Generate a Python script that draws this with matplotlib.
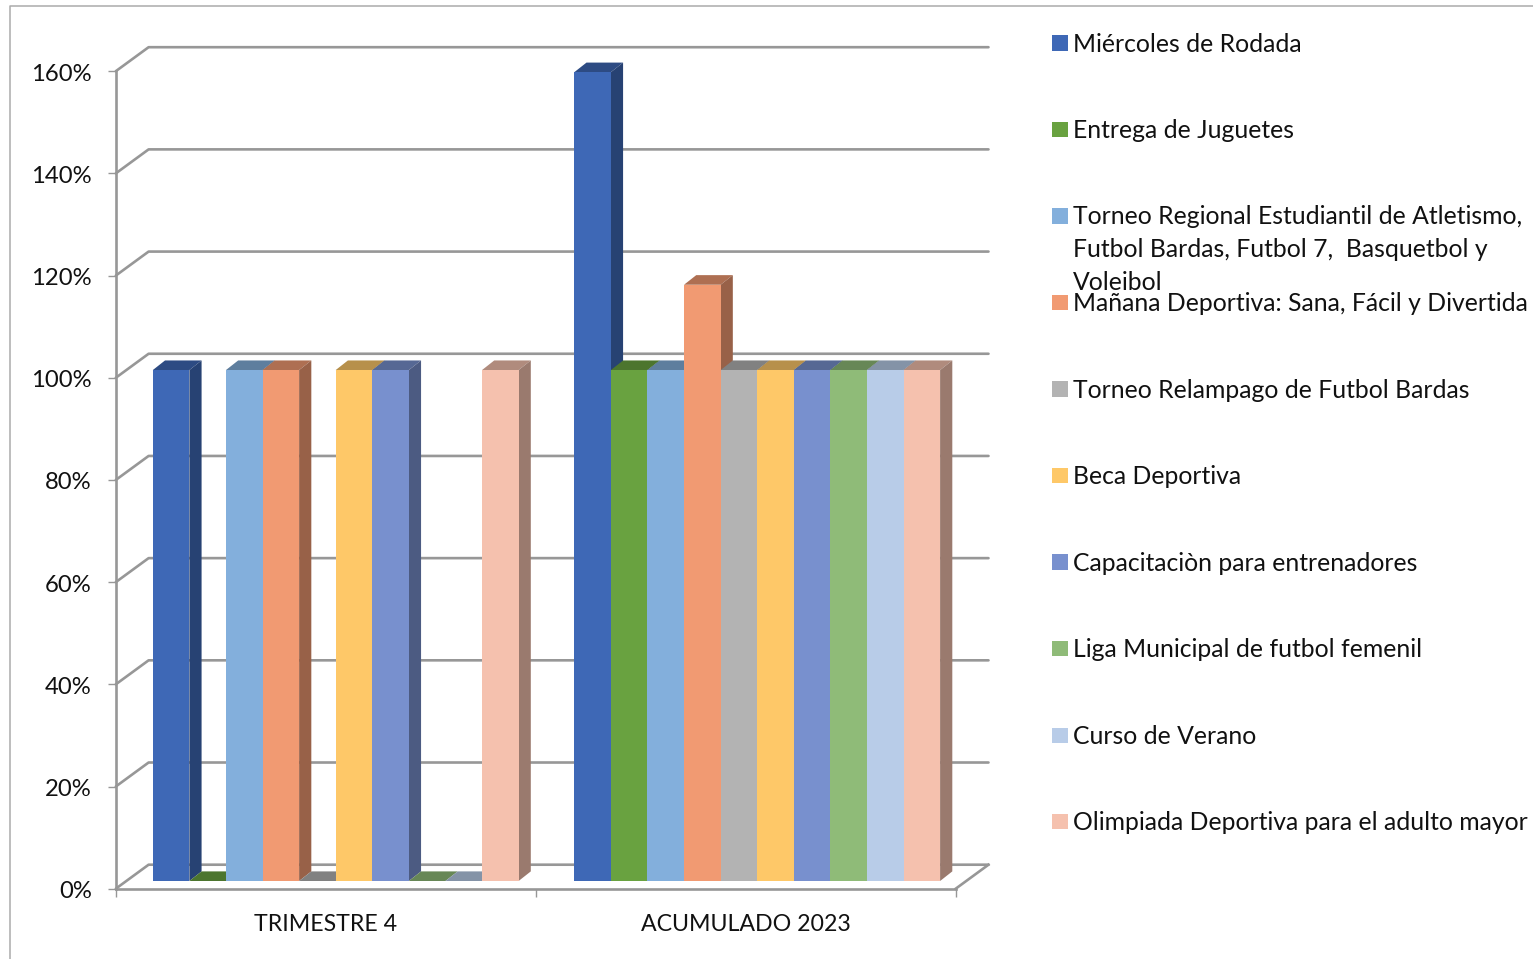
import matplotlib
matplotlib.use('Agg')
import matplotlib.pyplot as plt
from matplotlib.colors import to_rgb
from matplotlib.lines import Line2D
from matplotlib.patches import Rectangle
from matplotlib.transforms import Affine2D, ScaledTranslation

plt.rcParams['font.family'] = ['Lato', 'DejaVu Sans']

W, H = 1533, 959
categories = ['TRIMESTRE 4', 'ACUMULADO 2023']
series_labels = [
    'Miércoles de Rodada',
    'Entrega de Juguetes',
    'Torneo Regional Estudiantil de Atletismo,\nFutbol Bardas, Futbol 7,  Basquetbol y\nVoleibol',
    'Mañana Deportiva: Sana, Fácil y Divertida',
    'Torneo Relampago de Futbol Bardas',
    'Beca Deportiva',
    'Capacitaciòn para entrenadores',
    'Liga Municipal de futbol femenil',
    'Curso de Verano',
    'Olimpiada Deportiva para el adulto mayor',
]
trimestre = [100, 0, 100, 100, 0, 100, 100, 0, 0, 100]
acumulado = [158.3, 100, 100, 116.7, 100, 100, 100, 100, 100, 100]
colors = ['#3E68B6', '#69A240', '#83AFDC', '#F19A72', '#B3B3B3',
          '#FEC868', '#7890CE', '#8FBB78', '#B8CCE8', '#F5C1AE']
yticks = [0, 20, 40, 60, 80, 100, 120, 140, 160]
legend_y = [42.5, 129, 215.5, 302, 388.5, 475, 561.5, 648, 735, 821]

GRID = '#979797'
TEXT = '#111111'
FS = 17.2
FS_LEGEND = 17.8
LINE_PITCH = 32.7


def shade(color, k):
    return tuple(c * k for c in to_rgb(color))


fig = plt.figure(figsize=(W / 100, H / 100), dpi=100)
ax = fig.add_axes([115.8 / W, (H - 888.7) / H, 839.9 / W, 817.5 / H])
ax.set_xlim(0, 2)
ax.set_ylim(0, 160)
ax.patch.set_visible(False)

# px to data units
px_x = 2 / 839.9
px_y = 160 / 817.5

# back wall and floor
wall_x = 32.8 * px_x
wall_y = 24 * px_y
for t in yticks:
    ax.plot([0, wall_x, 2 + wall_x], [t, t + wall_y, t + wall_y], color=GRID,
            lw=1.9, clip_on=False, zorder=1, solid_capstyle='round')
ax.plot([2, 2 + wall_x], [0, wall_y], color=GRID, lw=1.9, clip_on=False, zorder=1)

# fake 3d bars
bar_w = 36.58 * px_x
depth_x = 12.2 * px_x
depth_y = 9.6 * px_y
base = 7.7 * px_y
starts = [37 * px_x, 458.5 * px_x]
z = 3
for start, values in zip(starts, [trimestre, acumulado]):
    for i, v in enumerate(values):
        x0 = start + i * bar_w
        x1 = x0 + bar_w
        top = base + v
        ax.fill([x0, x1, x1 + depth_x, x0 + depth_x],
                [top, top, top + depth_y, top + depth_y],
                color=shade(colors[i], 0.72), lw=0, clip_on=False, zorder=z)
        if v > 0:
            ax.fill([x1, x1 + depth_x, x1 + depth_x, x1],
                    [base, base + depth_y, top + depth_y, top],
                    color=shade(colors[i], 0.63), lw=0, clip_on=False, zorder=z)
            ax.bar(x0, v, bar_w, bottom=base, align='edge', color=colors[i],
                   lw=0, clip_on=False, zorder=z)
        z += 1

# axes
for side in ['top', 'right']:
    ax.spines[side].set_visible(False)
for side in ['left', 'bottom']:
    ax.spines[side].set_color(GRID)
    ax.spines[side].set_linewidth(1.9)
    ax.spines[side].set_zorder(2)
ax.set_yticks(yticks)
ax.set_yticklabels(['{}%'.format(t) for t in yticks])
ax.set_xticks([0, 1, 2])
ax.set_xticklabels([])
ax.set_xticks([0.5, 1.5], minor=True)
ax.set_xticklabels(categories, minor=True)
ax.tick_params(axis='y', length=5.8, width=1, color=GRID, pad=11.5,
               labelsize=FS, labelcolor=TEXT)
ax.tick_params(axis='x', which='major', length=5.8, width=1, color=GRID)
ax.tick_params(axis='x', which='minor', length=0, pad=18, labelsize=16.7, labelcolor=TEXT)

# nudge y labels down a pixel
nudge = ScaledTranslation(0, -1 / 100, fig.dpi_scale_trans)
for lab in ax.get_yticklabels():
    lab.set_transform(lab.get_transform() + nudge)

# legend, positioned in image pixels
to_px = Affine2D().scale(1 / W, -1 / H).translate(0, 1) + fig.transFigure
for label, color, y in zip(series_labels, colors, legend_y):
    fig.add_artist(Rectangle((1052, y - 7.5), 15.5, 15.5, facecolor=color, lw=0, transform=to_px))
    # baseline of a wrapped label sits on its last line
    extra = label.count('\n') * LINE_PITCH
    fig.text(1073, y + 9.3 + extra, label, transform=to_px, fontsize=FS_LEGEND, color=TEXT,
             va='baseline', ha='left', linespacing=1.53)

# chart frame
fig.add_artist(Line2D([10, 10, W], [H, 6, 6], color='#ABABAB', lw=1.1, transform=to_px))

fig.savefig('out.png', dpi=100, facecolor='white')
